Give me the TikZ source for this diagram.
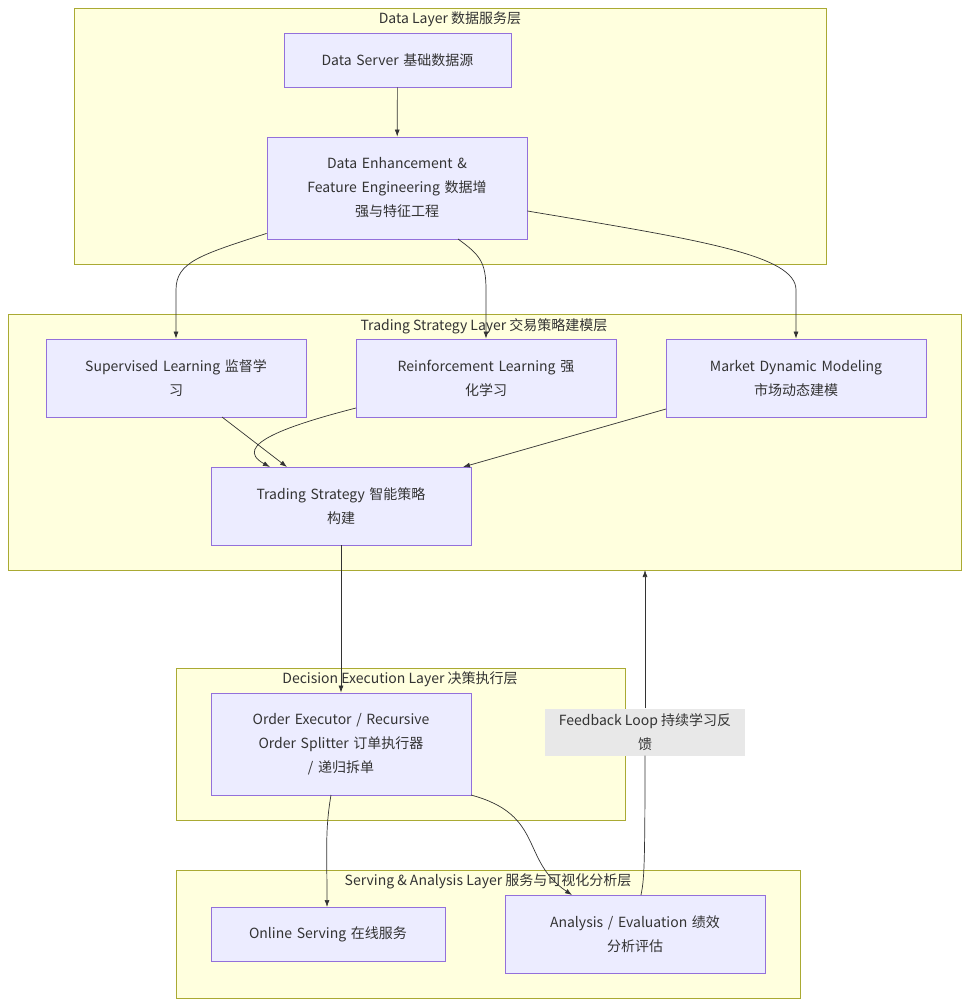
\documentclass[tikz,border=0pt]{standalone}
\usepackage{fontspec}
\setmainfont{Noto Sans CJK SC}
\usetikzlibrary{arrows.meta}
\definecolor{cf}{HTML}{FFFFDE}\definecolor{cs}{HTML}{AAAA33}
\definecolor{nf}{HTML}{ECECFF}\definecolor{ns}{HTML}{9370DB}
\definecolor{tx}{HTML}{333333}
\begin{document}
\begin{tikzpicture}[x=1pt,y=-1pt,
 clu/.style={draw=cs,fill=cf,line width=0.8pt},
 ttl/.style={text=tx,font=\fontsize{14}{18}\selectfont,inner sep=0pt},
 nd/.style={draw=ns,fill=nf,line width=0.8pt,text=tx,align=center,font=\fontsize{14}{24}\selectfont},
 ar/.style={draw=tx,line width=0.7pt,-{Latex[length=7pt,width=5pt]}}]
\useasboundingbox (0,0) rectangle (969,1006);
\fill[white] (0,0) rectangle (969,1006);
\draw[clu] (74,8) rectangle (826,264);
\node[ttl] (t1) at (450,19) {Data Layer 数据服务层};
\draw[clu] (8,314) rectangle (961,570);
\coordinate (tsl) at (645,570);
\node[ttl] (t2) at (484,326) {Trading Strategy Layer 交易策略建模层};
\draw[clu] (176,668) rectangle (625,820);
\node[ttl] (t3) at (400,679) {Decision Execution Layer 决策执行层};
\draw[clu] (176,870) rectangle (800,998);
\node[ttl] (t4) at (488,881) {Serving \& Analysis Layer 服务与可视化分析层};
\newcommand\bx[6]{\node[nd,minimum width=#4-#2,minimum height=#5-#3,inner sep=0pt,text width=#4-#2-30] (#1) at ({(#2+#4)/2},{(#3+#5)/2}) {#6};}
\bx{ds}{284}{33}{511}{87}{Data Server 基础数据源}
\bx{de}{267}{137}{527}{239}{Data Enhancement \&\\Feature Engineering 数据增\\强与特征工程}
\bx{sl}{46}{339}{306}{417}{Supervised Learning 监督学\\习}
\bx{rl}{356}{339}{616}{417}{Reinforcement Learning 强\\化学习}
\bx{md}{666}{339}{926}{417}{Market Dynamic Modeling\\市场动态建模}
\bx{ts}{211}{467}{471}{545}{Trading Strategy 智能策略\\构建}
\bx{oe}{211}{693}{471}{795}{Order Executor / Recursive\\Order Splitter 订单执行器\\/ 递归拆单}
\bx{os}{211}{907}{445}{961}{Online Serving 在线服务}
\bx{an}{505}{895}{765}{973}{Analysis / Evaluation 绩效\\分析评估}
\draw[ar] (ds) -- (de);
\draw[ar] (de.south west)++(0,-6) .. controls (200,255) and (176,262) .. (176,290) -- (sl.north);
\draw[ar] (458,239) .. controls (480,255) and (486,262) .. (486,290) -- (rl.north);
\draw[ar] (de.east)++(0,23) .. controls (700,240) and (796,255) .. (796,290) -- (md.north);
\draw[ar] (222,417) -- (287,467);
\draw[ar] (356,408) .. controls (290,425) and (230,445) .. (270,467);
\draw[ar] (666,409) -- (463,467);
\draw[ar] (ts) -- (oe);
\draw[ar] (331,795) .. controls (325,830) and (327,850) .. (327,907);
\draw[ar] (471,795) .. controls (545,815) and (520,860) .. (572,895);
\node[fill=gray!18,text=tx,align=center,font=\fontsize{14}{24}\selectfont,minimum width=200,minimum height=47,inner sep=0pt] (fb) at (645,732) {Feedback Loop 持续学习反\\馈};
\draw[tx,line width=0.7pt] (641,895) .. controls (644,880) and (645,870) .. (fb.south);
\draw[ar] (fb.north) -- (tsl);
\end{tikzpicture}
\end{document}
